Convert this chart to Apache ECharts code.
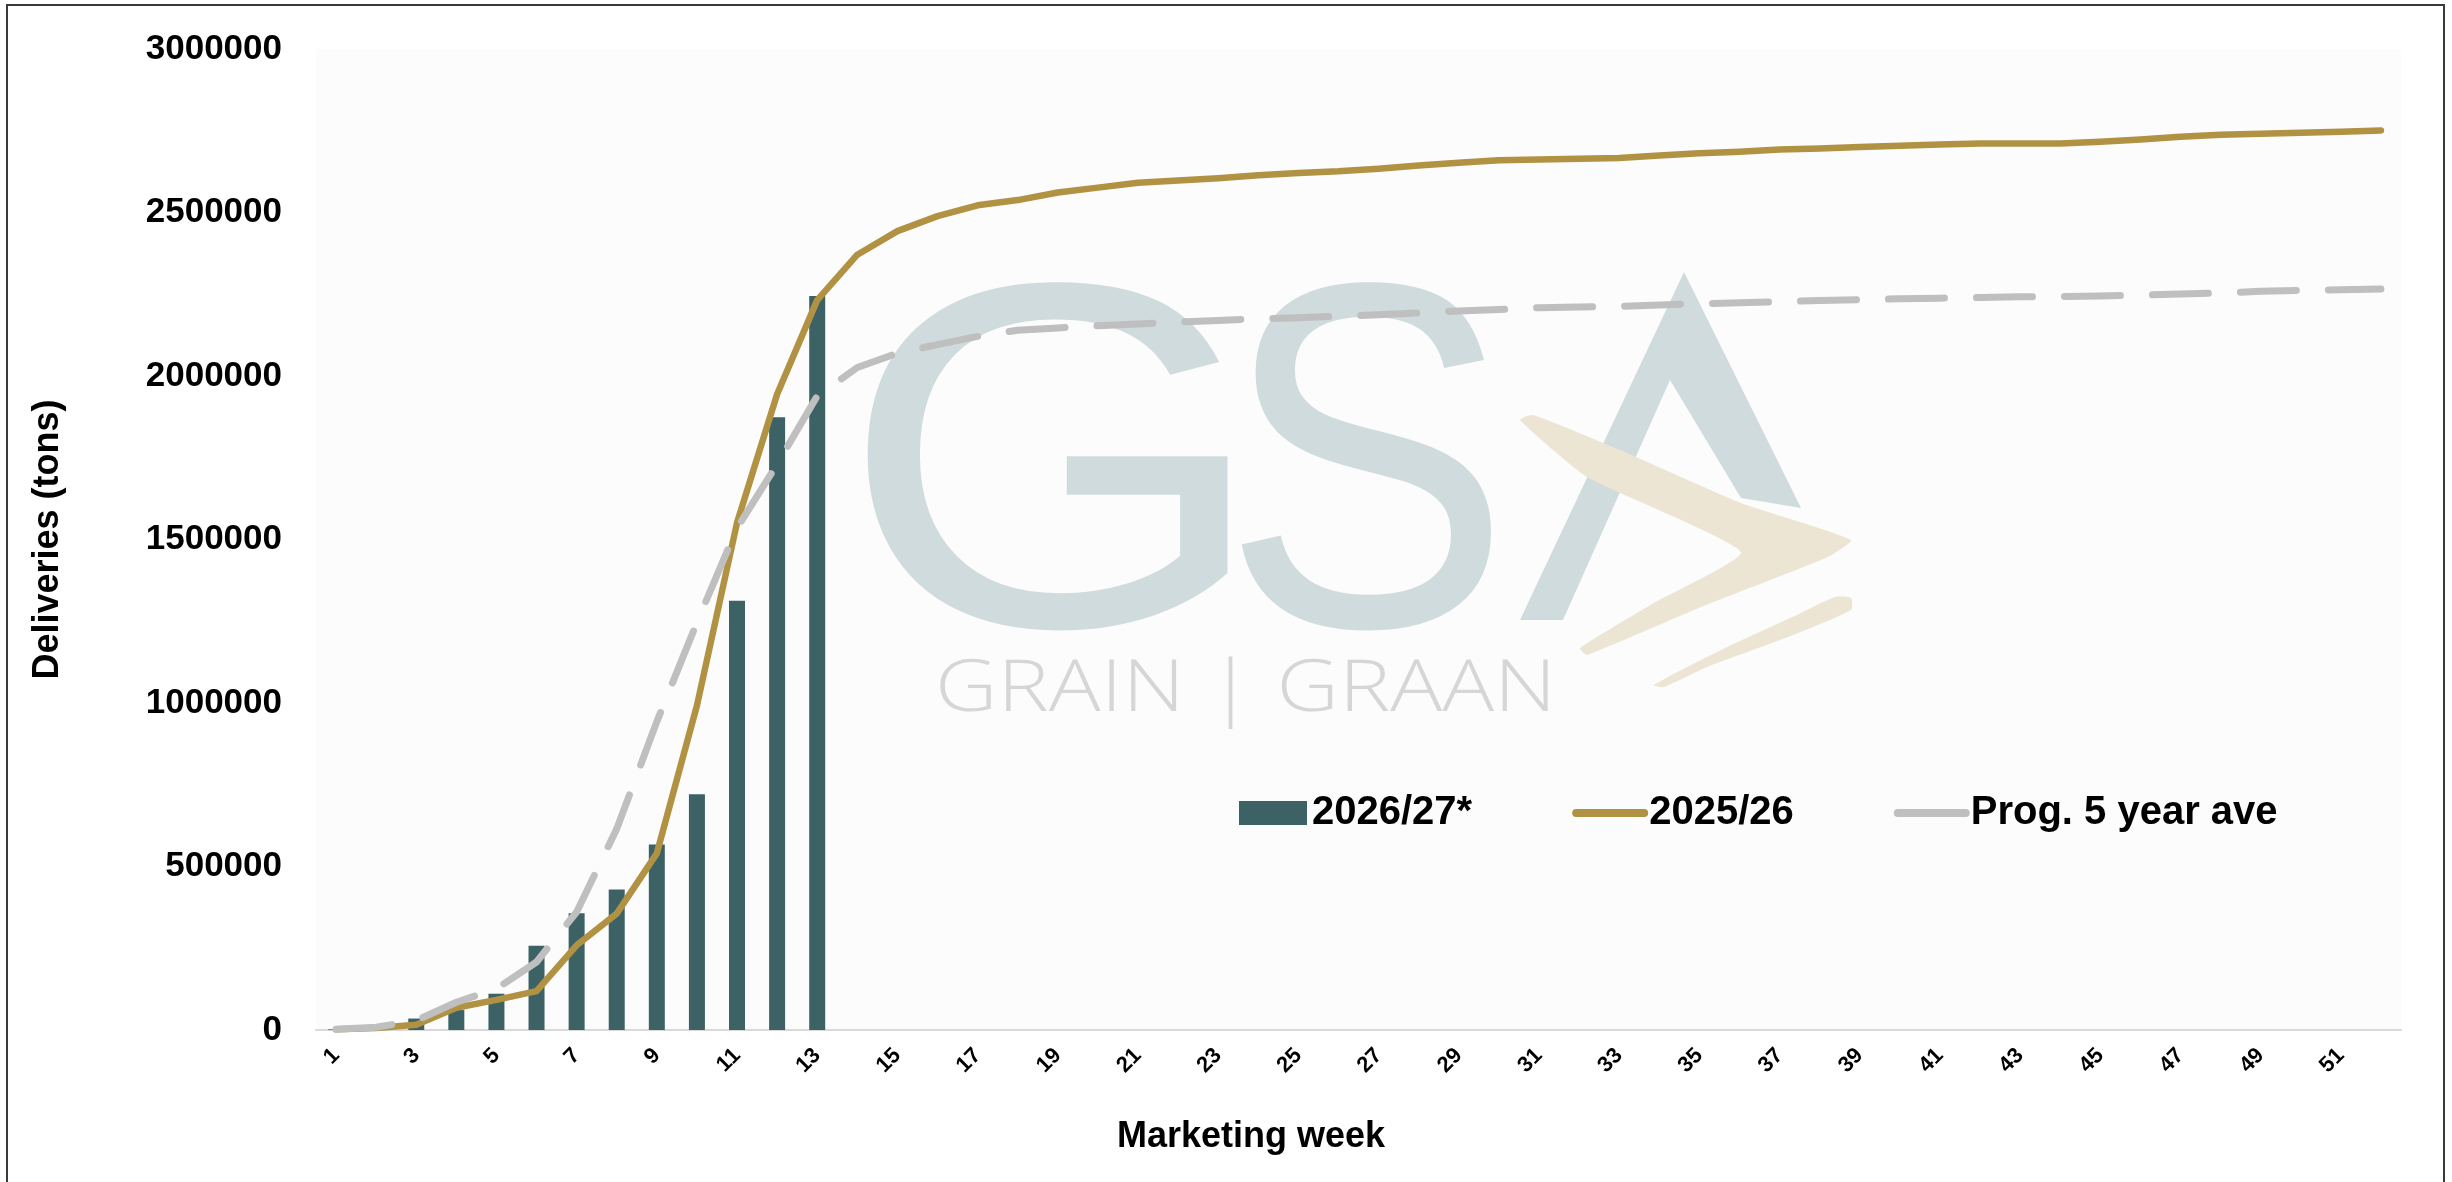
<!DOCTYPE html>
<html>
<head>
<meta charset="utf-8">
<title>Deliveries</title>
<script src="https://cdn.jsdelivr.net/npm/echarts@6/dist/echarts.min.js"></script>
<style>
  html, body { margin: 0; padding: 0; background: #ffffff; }
  #chart { width: 2452px; height: 1182px; }
</style>
</head>
<body>
<div id="chart"></div>
<script>
// marketing weeks 1..52
var weeks = ['1','2','3','4','5','6','7','8','9','10','11','12','13','14','15','16','17','18','19','20',
  '21','22','23','24','25','26','27','28','29','30','31','32','33','34','35','36','37','38','39','40',
  '41','42','43','44','45','46','47','48','49','50','51','52'];

// 2026/27* (weekly cumulative, only first 13 weeks reported)
var deliv2026 = [2000, 9000, 35000, 61000, 111000, 258000, 357000, 430000, 567000, 721000, 1313000, 1874000, 2245000];

// 2025/26
var deliv2025 = [2000, 6000, 16000, 68000, 92000, 119000, 259000, 356000, 540000, 992000, 1551000, 1944000, 2232000,
  2371000, 2443000, 2489000, 2522000, 2538000, 2561000, 2576000, 2591000, 2598000, 2605000,
  2614000, 2621000, 2626000, 2634000, 2644000, 2652000, 2660000, 2662000, 2664000, 2667000,
  2674000, 2681000, 2686000, 2693000, 2696000, 2700000, 2704000, 2708000, 2711000, 2711000,
  2711000, 2716000, 2723000, 2732000, 2738000, 2741000, 2744000, 2747000, 2751000];

// Prog. 5 year ave
var prog5yr = [2500, 8600, 29000, 85000, 126000, 208000, 361000, 615000, 943000, 1246000, 1535000, 1730000, 1939000,
  2026000, 2070000, 2096000, 2121000, 2140000, 2147000, 2154000, 2159000, 2165000, 2170000,
  2175000, 2178000, 2183000, 2187000, 2193000, 2199000, 2203000, 2209000, 2211000, 2213000,
  2217000, 2221000, 2224000, 2227000, 2231000, 2233000, 2236000, 2238000, 2240000, 2242000,
  2243000, 2245000, 2247000, 2251000, 2254000, 2259000, 2262000, 2264000, 2266000];

var seriesNames = ['2026/27*', '2025/26', 'Prog. 5 year ave'];

var FONT = '"Liberation Sans", Arial, sans-serif';
var wmBlue = '#cfdbdc';
var wmGold = '#ece5d3';

var myChart = echarts.init(document.getElementById('chart'));

var option = {
  backgroundColor: '#ffffff',
  animation: false,
  grid: {
    left: 316,
    right: 51,
    top: 49,
    bottom: 152,
    show: true,
    backgroundColor: '#fcfcfc',
    borderWidth: 0
  },
  legend: {
    left: 1234,
    top: 788,
    itemWidth: 68,
    itemHeight: 24,
    itemGap: 100,
    textStyle: { fontFamily: FONT, fontSize: 40, fontWeight: 'bold', color: '#000' },
    data: [
      { name: seriesNames[0], icon: 'rect' },
      { name: seriesNames[1], itemStyle: { opacity: 0 }, lineStyle: { width: 8, cap: 'round' } },
      { name: seriesNames[2], itemStyle: { opacity: 0 }, lineStyle: { width: 8, type: 'solid', cap: 'round' } }
    ]
  },
  graphic: [
    // watermark logo
    { type: 'text', x: 840, y: 490, scaleX: 1.12, z: 1, silent: true,
      style: { text: 'G', fontFamily: FONT, fontSize: 492, fill: wmBlue, verticalAlign: 'middle' } },
    { type: 'text', x: 1222, y: 490, scaleX: 0.88, z: 1, silent: true,
      style: { text: 'S', fontFamily: FONT, fontSize: 492, fill: wmBlue, verticalAlign: 'middle' } },
    { type: 'polygon', z: 1, silent: true,
      shape: { points: [[1684,272],[1801,508],[1741,498],[1670,380],[1563,620],[1520,620]] },
      style: { fill: wmBlue } },
    { type: 'polygon', z: 1, silent: true,
      shape: { smooth: 0.15, points: [[1533,415],[1620,450],[1741,503],[1851,540],[1828,557],[1701,607],
        [1587,655],[1580,648],[1654,603],[1741,552],[1587,477],[1520,420]] },
      style: { fill: wmGold } },
    { type: 'polygon', z: 1, silent: true,
      shape: { smooth: 0.2, points: [[1654,685],[1721,650],[1801,613],[1835,597],[1851,598],[1851,610],
        [1788,637],[1707,667],[1664,687]] },
      style: { fill: wmGold } },
    { type: 'text', x: 935, y: 690, scaleX: 1.2, z: 1, silent: true,
      style: { text: 'GRAIN | GRAAN', fontFamily: '"Open Sans", "Noto Sans", sans-serif', fontWeight: 300,
        fontSize: 72, fill: '#d6d6d6', verticalAlign: 'middle' } },
    // x axis title
    { type: 'text', x: 1251, y: 1137, z: 5,
      style: { text: 'Marketing week', fontFamily: FONT, fontSize: 36, fontWeight: 'bold', fill: '#000',
        align: 'center', verticalAlign: 'middle' } },
    // outer frame
    { type: 'rect', z: 10, silent: true,
      shape: { x: 7, y: 5, width: 2437, height: 1200 },
      style: { fill: 'none', stroke: '#3a3a3a', lineWidth: 2 } }
  ],
  xAxis: {
    type: 'category',
    data: weeks,
    boundaryGap: true,
    axisLine: { show: true, lineStyle: { color: '#d9d9d9', width: 2 } },
    axisTick: { show: false },
    splitLine: { show: false },
    axisLabel: {
      interval: 1,
      rotate: 45,
      margin: 22,
      fontFamily: FONT,
      fontSize: 22,
      fontWeight: 'bold',
      color: '#000'
    }
  },
  yAxis: {
    type: 'value',
    min: 0,
    max: 3000000,
    interval: 500000,
    name: 'Deliveries (tons)',
    nameLocation: 'middle',
    nameGap: 250,
    nameTextStyle: { fontFamily: FONT, fontSize: 36, fontWeight: 'bold', color: '#000' },
    axisLine: { show: false },
    axisTick: { show: false },
    splitLine: { show: false },
    axisLabel: {
      margin: 34,
      fontFamily: FONT,
      fontSize: 35,
      fontWeight: 'bold',
      color: '#000',
      formatter: function (v) { return String(v); }
    }
  },
  series: [
    {
      name: seriesNames[0],
      type: 'bar',
      barWidth: 16,
      itemStyle: { color: '#3c6266' },
      data: deliv2026
    },
    {
      name: seriesNames[1],
      type: 'line',
      symbol: 'none',
      showSymbol: false,
      lineStyle: { color: '#b09242', width: 6.5, cap: 'round', join: 'round' },
      itemStyle: { color: '#b09242' },
      data: deliv2025
    },
    {
      name: seriesNames[2],
      type: 'line',
      symbol: 'none',
      showSymbol: false,
      lineStyle: { color: '#bfbfbf', width: 7, type: [56, 32], cap: 'round', join: 'round' },
      itemStyle: { color: '#bfbfbf' },
      data: prog5yr
    }
  ]
};

myChart.setOption(option);
</script>
</body>
</html>
